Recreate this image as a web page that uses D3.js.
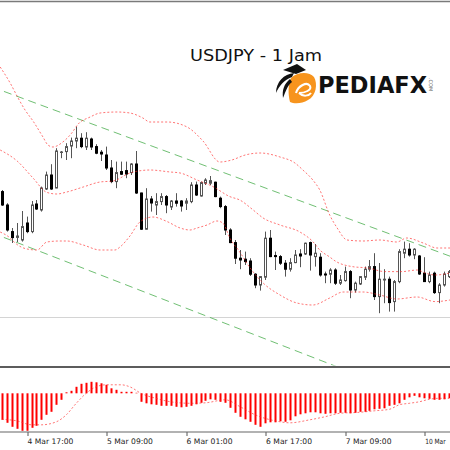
<!DOCTYPE html>
<html><head><meta charset="utf-8">
<script src="https://cdn.jsdelivr.net/npm/d3@7/dist/d3.min.js"></script>
<style>body{margin:0;background:#fff}svg{display:block}</style>
</head><body><svg id="c" width="450" height="450"></svg>
<script>
// ---- data (hourly USDJPY bars, index 0 = 4 Mar 12:00) ----
const open = [111.842,111.775,111.642,111.613,111.600,111.685,111.642,111.780,111.750,111.855,
111.925,111.860,112.039,112.042,112.070,112.095,112.109,112.065,112.105,112.067,
112.039,112.025,111.960,111.892,111.942,111.947,111.937,111.980,111.835,111.654,
111.805,111.775,111.792,111.817,111.765,111.795,111.795,111.784,111.792,111.875,
111.820,111.884,111.884,111.889,111.809,111.767,111.650,111.587,111.509,111.504,
111.495,111.429,111.375,111.414,111.609,111.522,111.517,111.484,111.454,111.487,
111.530,111.530,111.587,111.517,111.514,111.430,111.429,111.450,111.384,111.397,
111.442,111.350,111.380,111.414,111.454,111.467,111.317,111.400,111.404,111.292,
111.392,111.534,111.554,111.525,111.520,111.434,111.392,111.434,111.337,111.375,111.417];
const high = [111.850,111.784,111.660,111.685,111.745,111.717,111.795,111.800,111.867,111.942,
111.979,112.059,112.045,112.084,112.112,112.167,112.134,112.139,112.112,112.079,
112.050,112.067,112.000,111.992,111.992,111.992,111.984,112.045,111.837,111.859,
111.820,111.834,111.834,111.825,111.800,111.834,111.800,111.809,111.889,111.892,
111.892,111.909,111.920,111.892,111.817,111.775,111.659,111.600,111.550,111.542,
111.509,111.434,111.420,111.642,111.650,111.542,111.525,111.500,111.509,111.550,
111.554,111.587,111.592,111.580,111.534,111.442,111.459,111.459,111.425,111.467,
111.450,111.392,111.420,111.467,111.500,111.534,111.485,111.454,111.417,111.400,
111.554,111.592,111.584,111.559,111.525,111.514,111.442,111.442,111.384,111.442,111.450];
const low = [111.770,111.642,111.585,111.590,111.592,111.634,111.634,111.750,111.742,111.850,
111.850,111.859,112.009,112.000,112.009,112.059,112.059,112.050,112.050,112.029,
111.995,111.950,111.884,111.859,111.925,111.909,111.925,111.830,111.650,111.652,
111.742,111.725,111.775,111.734,111.750,111.767,111.742,111.750,111.784,111.820,
111.817,111.875,111.875,111.814,111.759,111.625,111.584,111.480,111.454,111.475,
111.420,111.359,111.347,111.400,111.514,111.450,111.475,111.417,111.442,111.484,
111.464,111.525,111.447,111.467,111.417,111.384,111.384,111.375,111.375,111.392,
111.309,111.337,111.375,111.400,111.442,111.300,111.234,111.284,111.242,111.242,
111.384,111.509,111.517,111.504,111.425,111.390,111.384,111.330,111.284,111.367,111.410];
const close = [111.775,111.650,111.612,111.620,111.667,111.642,111.775,111.755,111.860,111.925,
111.855,112.045,112.040,112.067,112.095,112.109,112.067,112.109,112.065,112.034,
112.030,111.960,111.892,111.937,111.929,111.930,111.980,111.835,111.654,111.805,
111.785,111.792,111.817,111.775,111.795,111.784,111.770,111.795,111.875,111.825,
111.887,111.900,111.897,111.817,111.767,111.650,111.587,111.509,111.500,111.492,
111.429,111.375,111.417,111.609,111.517,111.517,111.484,111.454,111.487,111.525,
111.520,111.584,111.525,111.534,111.425,111.425,111.450,111.384,111.400,111.442,
111.350,111.384,111.417,111.454,111.467,111.317,111.404,111.404,111.287,111.392,
111.542,111.554,111.525,111.554,111.430,111.392,111.425,111.337,111.375,111.430,111.442];

// Bollinger bands: [bar index, price]
const bbUpper = [[-0.3,112.465],[1.7,112.385],[3.3,112.31],[4.7,112.25],[6.3,112.195],[8.3,112.115],[9.3,112.075],[10.3,112.065],[12.3,112.09],[14.1,112.135],[15.4,112.18],[17.8,112.215],[19.8,112.235],[23.2,112.24],[25.8,112.235],[28.4,112.21],[29.8,112.19],[33.3,112.19],[37.3,112.165],[40.5,112.095],[43.9,111.99],[46.3,112.0],[49.0,112.025],[52.0,112.035],[56.0,112.015],[59.0,111.985],[60.6,111.95],[62.6,111.90],[64.0,111.85],[66.0,111.725],[67.5,111.66],[69.5,111.60],[72.7,111.595],[76.1,111.60],[79.5,111.59],[81.5,111.61],[84.8,111.585],[87.6,111.56],[90.2,111.56]];
const bbMiddle = [[-0.3,112.05],[3.1,111.995],[6.3,111.91],[9.1,111.838],[11.1,111.83],[13.1,111.84],[16.4,111.865],[19.8,111.89],[22.4,111.895],[25.8,111.935],[28.4,111.948],[29.8,111.95],[33.9,111.94],[35.9,111.935],[39.3,111.90],[42.5,111.867],[45.9,111.817],[47.9,111.80],[50.6,111.75],[52.6,111.71],[56.0,111.675],[60.0,111.64],[62.6,111.592],[64.0,111.55],[66.0,111.515],[67.1,111.495],[70.5,111.467],[73.7,111.46],[77.1,111.442],[80.5,111.442],[83.6,111.45],[85.2,111.435],[87.2,111.425],[90.2,111.435]];
const bbLower = [[-0.3,111.64],[1.7,111.61],[2.7,111.585],[5.1,111.555],[7.1,111.55],[9.1,111.59],[11.7,111.595],[13.1,111.595],[16.4,111.575],[19.8,111.55],[22.8,111.55],[23.8,111.565],[25.8,111.62],[27.8,111.69],[30.4,111.715],[33.3,111.692],[35.9,111.66],[37.9,111.65],[39.3,111.66],[41.3,111.675],[43.3,111.695],[44.5,111.685],[45.9,111.61],[47.9,111.54],[50.0,111.46],[52.6,111.385],[56.0,111.325],[59.4,111.285],[62.6,111.275],[66.0,111.31],[68.7,111.34],[72.7,111.34],[76.1,111.325],[79.5,111.305],[83.6,111.315],[87.2,111.292],[90.2,111.30]];

// channel trend lines and horizontal level
const chanUpper = [[0,112.347],[90,111.521]];
const chanLower = [[0,111.617],[90,110.749]];
const levels = [111.217];

// MACD (histogram) and signal line
const macd = [-0.053,-0.059,-0.067,-0.071,-0.075,-0.075,-0.069,-0.065,-0.053,-0.043,
-0.037,-0.023,-0.013,0.002,0.005,0.013,0.019,0.021,0.023,0.022,
0.020,0.017,0.010,0.007,0.003,0.003,0.003,0.001,-0.017,-0.020,
-0.022,-0.023,-0.025,-0.025,-0.025,-0.027,-0.028,-0.027,-0.025,-0.022,
-0.019,-0.015,-0.012,-0.013,-0.017,-0.019,-0.029,-0.039,-0.047,-0.052,
-0.057,-0.063,-0.067,-0.060,-0.058,-0.058,-0.056,-0.057,-0.054,-0.046,
-0.042,-0.040,-0.038,-0.038,-0.040,-0.041,-0.040,-0.040,-0.039,-0.039,
-0.040,-0.039,-0.037,-0.037,-0.035,-0.032,-0.031,-0.030,-0.025,-0.023,
-0.020,-0.013,-0.008,-0.005,-0.008,-0.010,-0.011,-0.013,-0.013,-0.012,-0.010];
const sigIdx = [0,3,6,8,11,13,15,17,19,21,24,26,28,31,34,38,41,45,48,51,55,58,62,65,68,72,75,78,80,82,84,86,88,90];
const sigVal = [-0.052,-0.055,-0.063,-0.063,-0.057,-0.043,-0.020,0.000,0.013,0.017,0.017,0.012,0.000,-0.010,-0.017,-0.020,-0.019,-0.013,-0.027,-0.043,-0.055,-0.059,-0.053,-0.047,-0.040,-0.038,-0.035,-0.032,-0.023,-0.020,-0.017,-0.012,-0.010,-0.010];

// time axis (only "10 Mar" of the last label shows in the original)
const tickIdx = [5,21,37,53,69,85];
const tickLabels = ["4 Mar 17:00","5 Mar 09:00","6 Mar 01:00","6 Mar 17:00","7 Mar 09:00","10 Mar"];

const title = "USDJPY - 1 Jam";
const brand = "PEDIAFX";

// ---- drawing ----
const svg = d3.select("#c");
const x = d3.scaleLinear().domain([0,90]).range([1.7,449]);
const y = d3.scaleLinear().domain([110.97,112.80]).range([366,0]);
const ym = d3.scaleLinear().domain([-0.078,0.05]).range([432.3,368.3]);

const defs = svg.append("defs");
defs.append("clipPath").attr("id","cm").append("rect").attr("x",0).attr("y",2.5).attr("width",450).attr("height",363);
defs.append("clipPath").attr("id","cs").append("rect").attr("x",0).attr("y",368).attr("width",450).attr("height",63.5);

svg.append("rect").attr("width",450).attr("height",450).attr("fill","#fff");

const main = svg.append("g").attr("clip-path","url(#cm)");

// horizontal level
main.selectAll(".lvl").data(levels).enter().append("line")
  .attr("x1",0).attr("x2",450).attr("y1",d=>Math.round(y(d))+0.5).attr("y2",d=>Math.round(y(d))+0.5)
  .attr("stroke","#d4d4d4").attr("stroke-width",1);

// channel lines
const lineKP = d3.line().x(d=>x(d[0])).y(d=>y(d[1]));
[chanUpper,chanLower].forEach(c=>{
  const x0 = -2, x1 = 92;
  const s = (c[1][1]-c[0][1])/(c[1][0]-c[0][0]);
  const pts = [[x0, c[0][1]+s*(x0-c[0][0])],[x1, c[0][1]+s*(x1-c[0][0])]];
  main.append("path").attr("d",lineKP(pts)).attr("fill","none")
    .attr("stroke","#4caf50").attr("stroke-opacity",0.8).attr("stroke-width",1).attr("stroke-dasharray","8,5");
});

// candles
const idx = d3.range(open.length);
const cx = i => Math.round(x(i));
const cg = main.append("g");
cg.selectAll(".w").data(idx).enter().append("line")
  .attr("x1",i=>cx(i)+0.5).attr("x2",i=>cx(i)+0.5)
  .attr("y1",i=>y(high[i])).attr("y2",i=>y(low[i]))
  .attr("stroke","#555").attr("stroke-width",1);
cg.selectAll(".b").data(idx).enter().append("rect")
  .attr("x",i=>cx(i)-0.5).attr("width",2)
  .attr("y",i=>y(Math.max(open[i],close[i])))
  .attr("height",i=>Math.max(0.5,Math.abs(y(open[i])-y(close[i]))))
  .attr("fill",i=>close[i]<open[i]?"#000":"#fff")
  .attr("stroke",i=>close[i]<open[i]?"#000":"#555").attr("stroke-width",1);

// Bollinger bands
const curve = d3.line().x(d=>x(d[0])).y(d=>y(d[1])).curve(d3.curveMonotoneX);
[bbUpper,bbMiddle,bbLower].forEach(b=>{
  main.append("path").attr("d",curve(b)).attr("fill","none")
    .attr("stroke","#ff2a2a").attr("stroke-opacity",0.65).attr("stroke-width",1).attr("stroke-dasharray","2,2");
});

// frame lines
svg.append("line").attr("x1",0).attr("x2",450).attr("y1",1.5).attr("y2",1.5).attr("stroke","#7a7a7a").attr("stroke-width",1.5);
svg.append("line").attr("x1",0).attr("x2",450).attr("y1",367).attr("y2",367).attr("stroke","#5c5c5c").attr("stroke-width",2);

// MACD window
const sub = svg.append("g").attr("clip-path","url(#cs)");
sub.selectAll(".h").data(idx).enter().append("rect")
  .attr("x",i=>cx(i)-0.5).attr("width",2)
  .attr("y",i=>Math.min(ym(0),ym(macd[i])))
  .attr("height",i=>Math.abs(ym(macd[i])-ym(0)))
  .attr("fill","#ff0000");
const sig = sigIdx.map((k,i)=>[k,sigVal[i]]);
sub.append("path").attr("d",d3.line().x(d=>x(d[0])).y(d=>ym(d[1])).curve(d3.curveMonotoneX)(sig))
  .attr("fill","none").attr("stroke","#ff2a2a").attr("stroke-opacity",0.65).attr("stroke-width",1).attr("stroke-dasharray","2,2");

// time axis
const axis = d3.axisBottom(x).tickValues(tickIdx).tickFormat((d,i)=>tickLabels[i]).tickSize(4).tickPadding(3);
const ag = svg.append("g").attr("transform","translate(0,432)").call(axis);
ag.select(".domain").remove();
ag.selectAll(".tick line").attr("stroke","#555").attr("transform",d=>`translate(${Math.round(x(d))+0.5-x(d)},0)`);
ag.selectAll(".tick text").attr("text-anchor","start").attr("x",0.5).attr("dy","0.71em")
  .style("font-family","'DejaVu Sans',sans-serif").style("font-size","7.6px").attr("fill","#222");
ag.selectAll(".tick text").filter((d,i)=>i===tickIdx.length-1)
  .style("font-size","7.2px").attr("textLength",20.5).attr("lengthAdjust","spacingAndGlyphs");
svg.append("line").attr("x1",0).attr("x2",450).attr("y1",432).attr("y2",432).attr("stroke","#666").attr("stroke-width",1.2);

// title
svg.append("text").attr("x",190).attr("y",61).text(title)
  .style("font-family","'DejaVu Sans',sans-serif").style("font-size","16.5px").attr("fill","#111")
  .attr("textLength",132).attr("lengthAdjust","spacingAndGlyphs");

// logo
const logo = svg.append("g");
logo.append("path").attr("d","M291,78 C297,72 309,71 314,77 C318,84 316,96 308,100 C302,104 294,104 290,102 C288,94 288,85 291,78 Z").attr("fill","#f7941d");
logo.append("path").attr("d","M296,93 C298,86 307,81 310,86 C312,90 305,93 299,93 M299,93 C303,97 309,96 311,93").attr("fill","none").attr("stroke","#fff").attr("stroke-width",2);
logo.append("path").attr("d","M283,70 L297,64 L306,70 L296,74 Z").attr("fill","#111");
logo.append("path").attr("d","M294,73 C284,74 276,82 276,93 C279,86 284,80 292,77 Z").attr("fill","#111");
logo.append("path").attr("d","M290,79 C284,84 282,90 283,98 C286,91 287,86 292,82 Z").attr("fill","#111");
logo.append("text").attr("x",318).attr("y",93).text(brand)
  .style("font-family","'DejaVu Sans',sans-serif").style("font-weight","bold").style("font-size","23px").attr("fill","#111")
  .attr("textLength",109).attr("lengthAdjust","spacingAndGlyphs");
logo.append("text").attr("transform","translate(429,78) rotate(90)").text(".COM")
  .style("font-family","'DejaVu Sans',sans-serif").style("font-size","5px").attr("fill","#666");
</script></body></html>
